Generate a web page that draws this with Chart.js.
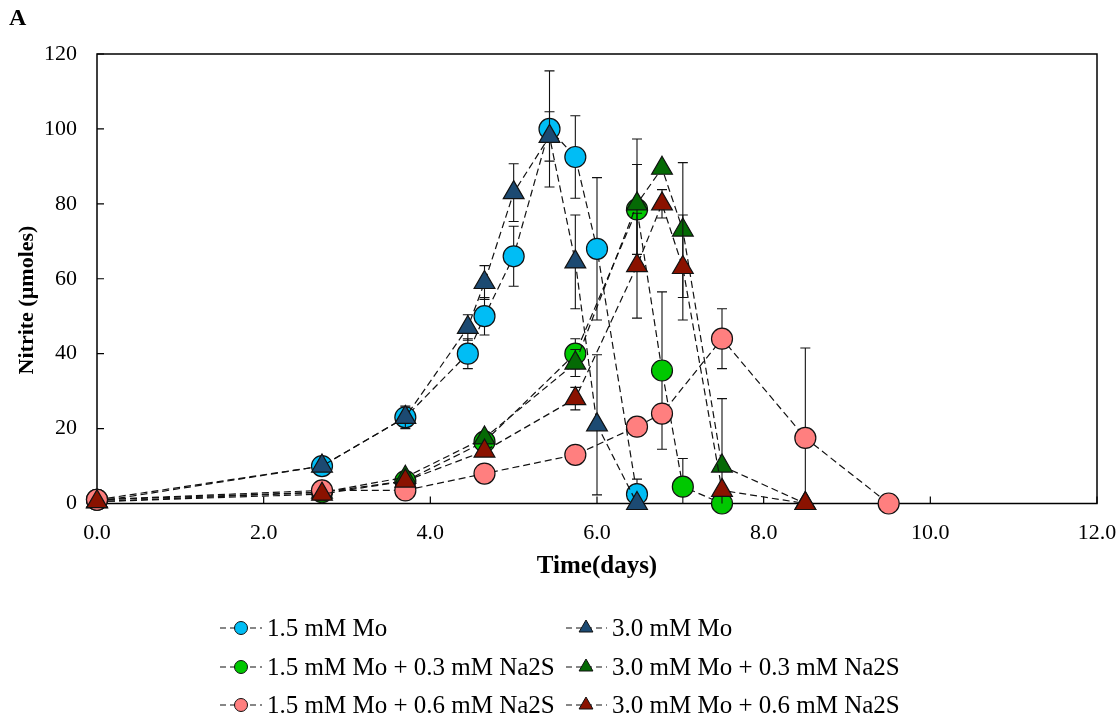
<!DOCTYPE html>
<html><head><meta charset="utf-8">
<script src="https://cdn.jsdelivr.net/npm/chart.js@4.4.1/dist/chart.umd.min.js"></script>
<style>html,body{margin:0;padding:0;background:#fff;} canvas{display:block;}</style>
</head><body>
<canvas id="c" width="1120" height="723"></canvas>
<script>
// ---- data ----
const seriesNames = ['1.5 mM Mo','3.0 mM Mo','1.5 mM Mo + 0.3 mM Na2S','3.0 mM Mo + 0.3 mM Na2S','1.5 mM Mo + 0.6 mM Na2S','3.0 mM Mo + 0.6 mM Na2S'];
const daysMo    = [0, 2.7, 3.7, 4.45, 4.65, 5.0, 5.43, 5.74, 6.0, 6.48];
const mo15      = [1, 10, 23, 40, 50, 66, 100, 92.5, 68, 2.5];
const mo15Err   = [0, 1, 1.5, 4, 5, 8, 15.5, 11, 19, 4];
const mo30      = [0.5, 10, 23, 47, 59, 83, 98, 64.5, 21, 0];
const mo30Err   = [0, 0.5, 3, 3.4, 4.5, 7.7, 6.6, 12.5, 18.7, 0];
const daysS03a  = [0, 2.7, 3.7, 4.65, 5.74, 6.48, 6.78, 7.03, 7.5];
const mo15s03   = [1, 3, 6, 16.5, 40, 78.5, 35.5, 4.5, 0];
const mo15s03Err= [0, 0, 0, 1, 4, 12, 21, 7.5, 0];
const daysS03b  = [0, 2.7, 3.7, 4.65, 5.74, 6.48, 6.78, 7.03, 7.5, 8.5];
const mo30s03   = [0.5, 3, 7, 17.5, 37.5, 80, 89.5, 73, 10, 0];
const mo30s03Err= [0, 0, 1, 1.5, 3.6, 17.3, 1, 18, 18, 0];
const daysS06a  = [0, 2.7, 3.7, 4.65, 5.74, 6.48, 6.78, 7.5, 8.5, 9.5];
const mo15s06   = [1, 3.5, 3.5, 8, 13, 20.5, 24, 44, 17.5, 0];
const mo15s06Err= [0, 0, 0, 0, 0, 0, 0, 8, 24, 0];
const daysS06b  = [0, 2.7, 3.7, 4.65, 5.74, 6.48, 6.78, 7.03, 7.5, 8.5];
const mo30s06   = [0.5, 2.5, 6, 14, 28, 63.5, 80, 63, 3.5, 0];
const mo30s06Err= [0, 0, 0, 1, 3, 14, 3.8, 14, 0, 0];
const seriesColors = ['#00BDF5','#1C4A72','#00C800','#056A05','#FF7F7F','#8A1200'];
const seriesShapes = ['circle','triangle','circle','triangle','circle','triangle'];
const xTitle = 'Time(days)';
const yTitle = 'Nitrite (\u00B5moles)';
const panelLabel = 'A';

const seriesDays = [daysMo, daysMo, daysS03a, daysS03b, daysS06a, daysS06b];
const seriesVals = [mo15, mo30, mo15s03, mo30s03, mo15s06, mo30s06];
const seriesErrs = [mo15Err, mo30Err, mo15s03Err, mo30s03Err, mo15s06Err, mo30s06Err];

const SERIF = '"Liberation Serif", "Times New Roman", serif';

const datasets = seriesNames.map((name, i) => ({
  label: name,
  data: seriesDays[i].map((d, k) => ({x: d, y: seriesVals[i][k]})),
  errors: seriesErrs[i],
  borderColor: '#111',
  borderWidth: 1.2,
  borderDash: [7, 4],
  backgroundColor: seriesColors[i],
  pointBackgroundColor: seriesColors[i],
  pointBorderColor: '#111',
  pointBorderWidth: 1.2,
  pointStyle: seriesShapes[i],
  pointRadius: seriesShapes[i] === 'circle' ? 10.5 : 12,
  pointHoverRadius: seriesShapes[i] === 'circle' ? 10.5 : 12,
  tension: 0,
  fill: false,
  clip: false,
  order: seriesNames.length - 1 - i
}));

const extras = {
  id: 'extras',
  beforeDatasetsDraw(chart) {
    const {ctx, chartArea: a, scales: {x, y}} = chart;
    ctx.save();
    ctx.strokeStyle = '#000';
    ctx.lineWidth = 1.5;
    ctx.strokeRect(a.left, a.top, a.right - a.left, a.bottom - a.top);
    ctx.lineWidth = 1.2;
    ctx.beginPath();
    y.ticks.forEach(t => { const py = y.getPixelForValue(t.value); ctx.moveTo(a.left, py); ctx.lineTo(a.left + 7, py); });
    x.ticks.forEach(t => { const px = x.getPixelForValue(t.value); ctx.moveTo(px, a.bottom); ctx.lineTo(px, a.bottom - 7); });
    ctx.stroke();
    ctx.restore();
  },
  beforeDatasetDraw(chart, args) {
    const ds = chart.data.datasets[args.index];
    const {ctx, chartArea: a, scales: {x, y}} = chart;
    ctx.save();
    ctx.beginPath();
    ctx.rect(a.left, a.top, a.right - a.left, a.bottom - a.top);
    ctx.clip();
    ctx.strokeStyle = '#111';
    ctx.lineWidth = 1.1;
    ctx.beginPath();
    ds.data.forEach((p, k) => {
      const e = ds.errors[k];
      if (!e) return;
      const px = x.getPixelForValue(p.x);
      const y1 = y.getPixelForValue(p.y + e), y2 = y.getPixelForValue(p.y - e);
      ctx.moveTo(px, y1); ctx.lineTo(px, y2);
      ctx.moveTo(px - 5, y1); ctx.lineTo(px + 5, y1);
      ctx.moveTo(px - 5, y2); ctx.lineTo(px + 5, y2);
    });
    ctx.stroke();
    ctx.restore();
  },
  afterDraw(chart) {
    const {ctx, chartArea: a} = chart;
    ctx.save();
    ctx.fillStyle = '#000';
    ctx.font = 'bold 24px ' + SERIF;
    ctx.textAlign = 'left'; ctx.textBaseline = 'middle';
    ctx.fillText(panelLabel, 9, 19);
    ctx.font = 'bold 25px ' + SERIF;
    ctx.textAlign = 'center';
    ctx.fillText(xTitle, (a.left + a.right) / 2, 567);
    ctx.save();
    ctx.translate(27, 300);
    ctx.rotate(-Math.PI / 2);
    ctx.font = 'bold 22px ' + SERIF;
    ctx.fillText(yTitle, 0, 0);
    ctx.restore();
    const cols = [{x0: 220, x1: 262, mx: 241, tx: 267}, {x0: 566, x1: 607, mx: 586, tx: 612}];
    const rows = [628, 667, 705];
    seriesNames.forEach((name, i) => {
      const c = cols[i % 2], ry = rows[Math.floor(i / 2)];
      ctx.save();
      ctx.strokeStyle = '#111'; ctx.lineWidth = 1.2; ctx.setLineDash([6, 4]);
      ctx.beginPath(); ctx.moveTo(c.x0, ry); ctx.lineTo(c.x1, ry); ctx.stroke();
      ctx.setLineDash([]);
      ctx.fillStyle = seriesColors[i]; ctx.strokeStyle = '#111'; ctx.lineWidth = 1;
      Chart.helpers.drawPoint(ctx, {pointStyle: seriesShapes[i], radius: seriesShapes[i] === 'circle' ? 6.5 : 8, borderWidth: 1, rotation: 0}, c.mx, ry);
      ctx.restore();
      ctx.fillStyle = '#000';
      ctx.font = '25px ' + SERIF;
      ctx.textAlign = 'left'; ctx.textBaseline = 'middle';
      ctx.fillText(name, c.tx, ry + 1);
    });
    ctx.restore();
  }
};

new Chart(document.getElementById('c'), {
  type: 'line',
  data: {datasets},
  options: {
    responsive: false,
    animation: false,
    devicePixelRatio: 1,
    layout: {autoPadding: false, padding: {left: 0, right: 23, top: 54, bottom: 0}},
    plugins: {legend: {display: false}, tooltip: {enabled: false}},
    scales: {
      x: {
        type: 'linear', min: 0, max: 12,
        afterFit(s) { s.height = 219.5; s.paddingLeft = 0; s.paddingRight = 0; },
        grid: {display: false, drawTicks: false},
        border: {display: false},
        ticks: {stepSize: 2, padding: 17, color: '#000', font: {family: SERIF, size: 22},
                callback: v => Number(v).toFixed(1)}
      },
      y: {
        type: 'linear', min: 0, max: 120,
        afterFit(s) { s.width = 97; s.paddingTop = 0; s.paddingBottom = 0; },
        grid: {display: false, drawTicks: false},
        border: {display: false},
        ticks: {stepSize: 20, padding: 20, color: '#000', font: {family: SERIF, size: 22}}
      }
    }
  },
  plugins: [extras]
});
</script>
</body></html>
